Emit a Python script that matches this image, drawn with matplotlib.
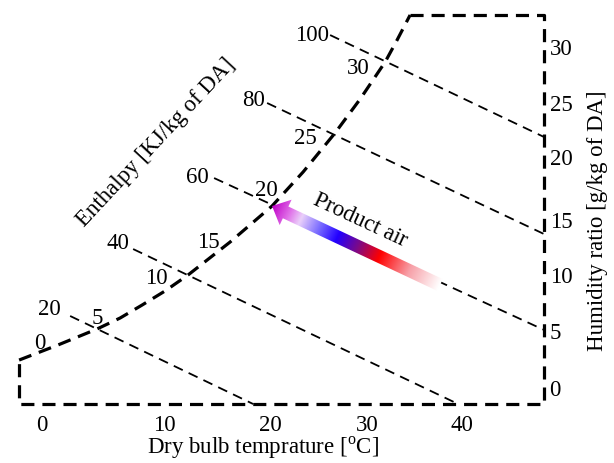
import numpy as np
import matplotlib
matplotlib.use("Agg")
import matplotlib.pyplot as plt
from matplotlib.colors import LinearSegmentedColormap
from matplotlib.patches import Polygon

plt.rcParams['font.family'] = ['Liberation Serif', 'DejaVu Serif']
plt.rcParams['mathtext.fontset'] = 'custom'
plt.rcParams['mathtext.rm'] = 'Liberation Serif'
FS = 16.5

# axis ranges (dry bulb temperature / humidity ratio)
t_lim = (-2.2, 47.8)
w_lim = (-1.42, 33.1)

# tick labels as placed in the picture
xtick_pos = [0.0, 11.62, 21.71, 30.95, 40.0]
xtick_labels = ['0', '10', '20', '30', '40']
ytick_pos = [0.0, 5.1, 10.0, 14.9, 20.5, 25.3, 30.3]
ytick_labels = ['0', '5', '10', '15', '20', '25', '30']

# saturation curve
sat_t = [-2.19, 1.52, 5.24, 7.43, 9.52, 11.71, 13.90, 17.90, 21.90, 24.86, 27.90, 30.29, 32.67, 33.81, 35.05]
sat_w = [2.48, 3.82, 5.24, 6.21, 7.36, 8.61, 10.03, 12.95, 16.15, 19.17, 22.63, 25.64, 28.93, 30.88, 33.10]

# labels along the saturation curve
sat_labels = ['0', '5', '10', '15', '20', '25', '30']
sat_label_t = [-0.19, 5.24, 10.86, 15.81, 21.33, 25.05, 30.10]
sat_label_w = [3.99, 6.21, 9.76, 12.87, 17.57, 22.18, 28.39]

# constant enthalpy lines (start / end points)
enth_values = [20, 40, 60, 80, 100]
enth_t0 = [2.67, 8.67, 16.38, 21.43, 27.43]
enth_w0 = [6.39, 12.33, 18.63, 25.29, 31.32]
enth_t1 = [20.10, 39.62, 47.81, 47.81, 47.81]
enth_w1 = [-1.42, -1.42, 5.15, 13.66, 22.27]
enth_label_t = [0.67, 7.24, 14.76, 20.10, 25.71]
enth_label_w = [7.01, 12.78, 18.72, 25.47, 31.32]

# product air arrow (tail -> tip)
arrow_tail = (37.90, 9.14)
arrow_tip = (21.90, 16.15)
arrow_colors = [(0.0, '#ffffff'), (0.18, '#f7a0a8'), (0.36, '#ff0000'),
                (0.49, '#7a0a8a'), (0.61, '#2200ff'), (0.72, '#7a6cff'),
                (0.83, '#ead0fa'), (0.9, '#e070e8'), (1.0, '#c000c8')]

fig = plt.figure(figsize=(6.14, 4.63), dpi=100)
ax = fig.add_axes([19 / 614, 59 / 463, 525 / 614, 389 / 463])
ax.set_xlim(*t_lim)
ax.set_ylim(*w_lim)
for s in ax.spines.values():
    s.set_visible(False)

thick = dict(color='black', lw=2.3, linestyle=(0, (4.1, 2.5)), clip_on=False)
thin = dict(color='black', lw=1.3, linestyle=(0, (5.5, 3.6)), clip_on=False)

# frame
frame_t = [sat_t[-1], t_lim[1], t_lim[1], t_lim[0], t_lim[0]]
frame_w = [w_lim[1], w_lim[1], w_lim[0], w_lim[0], sat_w[0]]
ax.plot(frame_t, frame_w, **thick)
ax.plot(sat_t, sat_w, **thick)

for h, a, b, c, d, lt, lw in zip(enth_values, enth_t0, enth_w0, enth_t1, enth_w1,
                                 enth_label_t, enth_label_w):
    ax.plot([a, c], [b, d], **thin)
    ax.text(lt, lw, str(h), fontsize=FS, ha='center', va='center')

for lab, lt, lw in zip(sat_labels, sat_label_t, sat_label_w):
    ax.text(lt, lw, lab, fontsize=FS, ha='center', va='center')

# gradient arrow built in pixel space
tr = ax.transData
p0 = tr.transform(arrow_tail)
p1 = tr.transform(arrow_tip)
u = (p1 - p0) / np.linalg.norm(p1 - p0)
n = np.array([-u[1], u[0]])
L = np.linalg.norm(p1 - p0)
shaft, head_w, head_l = 13.0, 28.0, 15.0
base = p0 + u * (L - head_l)
verts_px = [p0 + n * shaft / 2, base + n * shaft / 2, base + n * head_w / 2, p1,
            base - n * head_w / 2, base - n * shaft / 2, p0 - n * shaft / 2]
verts = tr.inverted().transform(np.array(verts_px))
poly = Polygon(verts, closed=True, transform=ax.transData, fc='none', ec='none')

x0, y0 = verts.min(axis=0)
x1, y1 = verts.max(axis=0)
gx, gy = np.meshgrid(np.linspace(x0, x1, 300), np.linspace(y0, y1, 300))
gp = tr.transform(np.column_stack([gx.ravel(), gy.ravel()]))
tt = np.clip(((gp - p0) @ u) / L, 0, 1).reshape(gx.shape)
cmap = LinearSegmentedColormap.from_list('arrow', arrow_colors)
im = ax.imshow(tt, cmap=cmap, extent=(x0, x1, y0, y1), origin='lower',
               aspect='auto', interpolation='bilinear', zorder=3)
im.set_clip_path(poly)
ax.set_xlim(*t_lim)
ax.set_ylim(*w_lim)

ax.text(30.3, 14.9, 'Product air', fontsize=FS, rotation=-25,
        rotation_mode='anchor', ha='center', va='center')
ax.text(10.86, 21.74, 'Enthalpy [KJ/kg of DA]', fontsize=FS, rotation=47,
        rotation_mode='anchor', ha='center', va='center')

ax.set_xticks(xtick_pos, xtick_labels, fontsize=FS)
ax.yaxis.tick_right()
ax.set_yticks(ytick_pos, ytick_labels, fontsize=FS)
ax.tick_params(axis='x', length=0, pad=8)
ax.tick_params(axis='y', length=0, pad=4)

fig.text(263 / 614, 1 - 448 / 463, r'Dry bulb temprature [$^{\mathrm{o}}$C]',
         fontsize=FS, ha='center', va='center')
fig.text(597 / 614, 1 - 221 / 463, 'Humidity ratio [g/kg of DA]',
         fontsize=FS, rotation=90, ha='center', va='center')

fig.savefig('out.png', dpi=100)
